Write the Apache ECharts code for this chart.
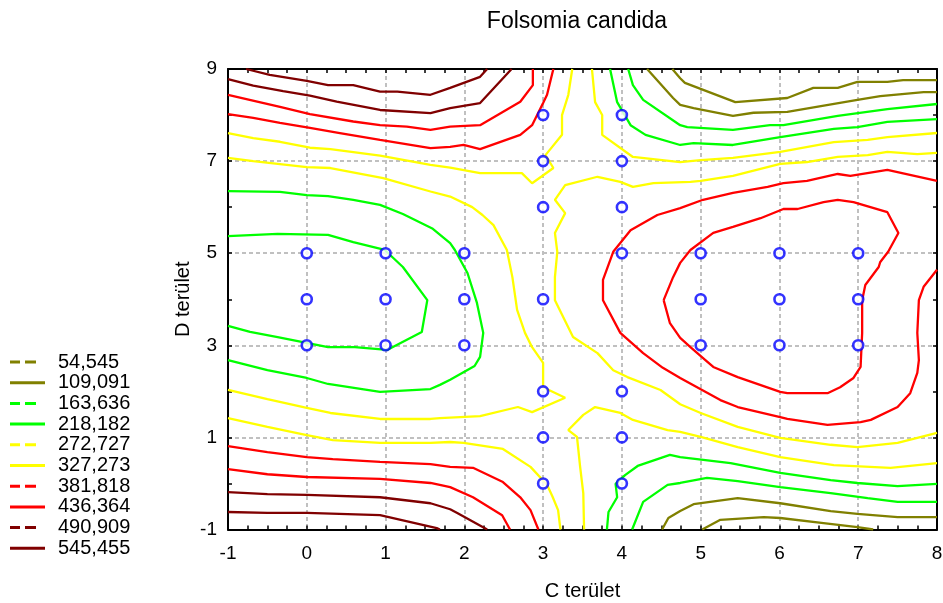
<!DOCTYPE html>
<html>
<head>
<meta charset="utf-8">
<script src="https://cdn.jsdelivr.net/npm/echarts@6/dist/echarts.min.js"></script>
<style>
html,body{margin:0;padding:0;background:#fff;}
#chart{width:943px;height:603px;}
</style>
</head>
<body>
<div id="chart"></div>
<script>
// ---- data ----
const chartTitle = 'Folsomia candida';
const xName = 'C terület';
const yName = 'D terület';
const levelLabels = ['54,545','109,091','163,636','218,182','272,727','327,273','381,818','436,364','490,909','545,455'];

// sample locations (blue circles)
const sampleX = [0,1,2,0,1,2,0,1,2,3,4,3,4,3,4,3,4,5,6,7,5,6,7,5,6,7,3,4,3,4,3,4];
const sampleY = [5,5,5,4,4,4,3,3,3,8,8,7,7,6,6,4,5,5,5,5,4,4,4,3,3,3,2,2,1,1,0,0];

// contour polylines [x, y] for each level
const c054_top = [[4.64,9],[4.74,8.8],[4.8,8.7],[5.44,8.28],[6.1,8.37],[6.43,8.59],[6.74,8.59],[6.99,8.72],[7.37,8.72],[7.57,8.76],[8,8.76]];
const c054_bot = [[5.02,-1],[5.25,-0.79],[5.8,-0.73],[6.01,-0.75],[6.56,-0.86],[6.99,-0.95],[7.19,-1]];

const c109_top = [[4.32,9],[4.65,8.37],[4.74,8.22],[4.91,8.15],[5.41,7.98],[5.67,8.05],[6.1,8.07],[6.99,8.33],[7.28,8.41],[7.83,8.5],[8,8.5]];
const c109_bot = [[4.51,-1],[4.59,-0.75],[4.74,-0.6],[4.91,-0.45],[5.47,-0.32],[6.01,-0.43],[6.65,-0.6],[6.99,-0.66],[7.5,-0.73],[8,-0.73]];

const c164_left = [[-1,5.37],[-0.37,5.42],[0.27,5.4],[0.59,5.24],[0.99,5.07],[1.22,4.7],[1.53,3.98],[1.46,3.29],[1.02,2.9],[0.61,2.96],[0.27,2.96],[-0.37,3.18],[-0.72,3.29],[-1,3.42]];
const c164_top = [[4.08,9],[4.14,8.65],[4.27,8.33],[4.74,7.78],[4.83,7.74],[5.41,7.68],[5.88,7.78],[6.05,7.78],[6.74,7.98],[7.37,8.13],[8,8.24]];
const c164_bot = [[4.13,-1],[4.27,-0.4],[4.58,-0.03],[4.74,0.01],[5.08,0.12],[5.47,0.05],[6.01,-0.08],[6.65,-0.21],[7.12,-0.32],[7.5,-0.4],[8,-0.4]];

const c218_left = [[-1,6.35],[-0.34,6.33],[0,6.26],[0.27,6.24],[0.59,6.16],[0.93,6.05],[1.22,5.85],[1.6,5.53],[1.82,5.22],[1.88,5.07],[2.04,4.57],[2.16,3.92],[2.24,3.27],[2.2,2.75],[2.13,2.55],[1.82,2.25],[1.69,2.14],[1.57,2.05],[0.93,1.99],[0.27,2.16],[0,2.29],[-0.5,2.46],[-1,2.68]];
const c218_top = [[3.85,9],[3.94,8.28],[4.11,7.78],[4.3,7.57],[4.74,7.35],[4.91,7.39],[5.41,7.35],[6.01,7.52],[6.69,7.7],[6.99,7.74],[7.37,7.85],[8,7.91]];
const c218_bot = [[3.81,-1],[3.83,-0.62],[3.94,-0.3],[3.92,-0.01],[4.04,0.18],[4.2,0.38],[4.61,0.62],[4.74,0.57],[5.38,0.44],[6.01,0.23],[6.65,0.07],[6.99,0.01],[7.5,-0.06],[8,-0.01]];

const c273_left = [[-1,7.07],[-0.68,7.0],[0,6.87],[0.3,6.85],[0.97,6.63],[1.57,6.34],[1.82,6.23],[2.1,6.0],[2.23,5.83],[2.37,5.61],[2.54,5.07],[2.61,4.48],[2.67,3.77],[2.77,3.27],[2.86,2.96],[3.0,2.62],[3.0,2.09],[3.28,1.86],[2.86,1.55],[2.68,1.66],[2.2,1.46],[1.69,1.42],[1.57,1.4],[0.93,1.4],[0.3,1.53],[0,1.64],[-0.5,1.83],[-1,2.03]];
const c273_top = [[3.62,9],[3.66,8.28],[3.75,8.0],[3.75,7.57],[4.14,7.09],[4.74,6.98],[5.0,7.02],[5.41,7.07],[6.01,7.2],[6.69,7.41],[7.12,7.46],[7.37,7.52],[8,7.61]];
const c273_bot = [[8,0.44],[7.41,0.34],[6.69,0.4],[6.01,0.57],[5.47,0.79],[5.0,1.01],[4.74,1.12],[4.58,1.16],[4.14,1.38],[3.98,1.53],[3.66,1.66],[3.51,1.49],[3.32,1.16],[3.43,1.01],[3.47,0.36],[3.51,-0.21],[3.52,-1]];

const c327_top = [[-1,7.61],[-0.68,7.5],[-0.34,7.42],[0.04,7.29],[0.3,7.26],[0.93,7.12],[1.57,6.92],[1.82,6.86],[2.2,6.74],[2.73,6.74],[2.86,6.52],[3.13,6.85],[3.03,7.13],[3.24,7.57],[3.24,8.0],[3.32,8.44],[3.37,9]];
const c327_bot = [[-1,1.42],[-0.5,1.23],[0,1.05],[0.33,0.94],[0.93,0.88],[1.57,0.88],[1.82,0.9],[1.99,0.88],[2.49,0.75],[2.84,0.36],[3.05,-0.03],[3.12,-0.29],[3.19,-0.58],[3.22,-1]];
const c327_right = [[8,7.18],[7.75,7.15],[7.37,7.2],[7.12,7.13],[6.74,7.09],[6.35,6.98],[6.01,6.94],[5.41,6.68],[5.0,6.57],[4.87,6.55],[4.4,6.52],[4.14,6.44],[3.98,6.55],[3.69,6.66],[3.28,6.48],[3.15,6.16],[3.28,5.87],[3.15,5.44],[3.18,5.03],[3.15,4.48],[3.15,3.98],[3.38,3.18],[3.69,2.83],[3.89,2.46],[4.07,2.31],[4.49,2.03],[4.74,1.72],[5.0,1.53],[5.47,1.23],[6.01,0.99],[6.65,0.84],[6.99,0.79],[7.5,0.88],[8,1.1]];

const c382_top = [[-1,8.02],[-0.68,7.94],[-0.34,7.83],[0.04,7.72],[0.42,7.61],[0.93,7.46],[1.57,7.28],[1.82,7.31],[1.99,7.35],[2.2,7.26],[2.71,7.57],[2.86,7.78],[3.0,8.26],[3.05,8.44],[3.13,9]];
const c382_bot = [[-1,0.81],[-0.5,0.68],[0,0.57],[0.33,0.53],[0.93,0.47],[1.57,0.42],[1.82,0.36],[2.11,0.34],[2.49,0.03],[2.71,-0.3],[2.84,-0.58],[2.94,-1]];
const c382_right = [[8,6.57],[7.37,6.81],[6.9,6.68],[6.74,6.72],[6.35,6.57],[6.05,6.52],[5.85,6.44],[5.41,6.31],[5.03,6.16],[4.74,5.98],[4.45,5.83],[4.11,5.5],[3.89,5.03],[3.76,4.42],[3.76,3.98],[3.98,3.27],[4.27,2.83],[4.52,2.51],[4.74,2.29],[5.25,1.81],[5.47,1.66],[6.01,1.44],[6.1,1.4],[6.61,1.27],[7.03,1.33],[7.16,1.38],[7.5,1.66],[7.66,1.96],[7.75,2.4],[7.77,2.68],[7.75,3.27],[7.77,3.98],[7.83,4.27],[8,4.64]];

const c436_top = [[-1,8.44],[-0.34,8.18],[0.04,8.02],[0.59,7.86],[0.93,7.78],[1.27,7.75],[1.57,7.68],[1.82,7.75],[2.2,7.78],[2.71,8.29],[2.87,8.65],[2.87,9]];
const c436_bot = [[-1,0.31],[-0.5,0.2],[0,0.14],[0.93,0.1],[1.57,0.01],[1.82,-0.08],[2.11,-0.3],[2.48,-0.69],[2.58,-1]];
const c436_loop = [[4.53,3.98],[4.61,3.48],[4.74,3.16],[4.87,2.96],[5.06,2.68],[5.16,2.53],[5.47,2.31],[6.01,1.99],[6.1,1.96],[6.61,1.96],[6.77,2.09],[6.94,2.29],[7.03,2.53],[7.05,3.27],[7.05,3.98],[7.09,4.31],[7.26,4.7],[7.28,4.81],[7.38,5.03],[7.51,5.44],[7.37,5.89],[6.94,6.11],[6.74,6.16],[6.56,6.11],[6.23,5.96],[6.05,5.96],[5.76,5.76],[5.41,5.57],[5.16,5.44],[4.87,5.07],[4.74,4.79],[4.65,4.48],[4.53,3.98]];

const c491_top = [[-1,8.78],[-0.68,8.64],[-0.3,8.52],[0.04,8.42],[0.38,8.29],[0.93,8.11],[1.57,8.04],[1.82,8.15],[2.2,8.26],[2.6,9]];
const c491_bot = [[-1,-0.19],[-0.5,-0.23],[0,-0.25],[0.93,-0.3],[1.57,-0.43],[1.82,-0.56],[1.91,-0.64],[2.29,-1]];

const c545_top = [[-0.77,9],[-0.47,8.87],[0,8.74],[0.27,8.65],[0.59,8.65],[0.93,8.51],[1.15,8.51],[1.57,8.44],[1.82,8.59],[2.2,8.83],[2.29,9]];
const c545_bot = [[-1,-0.62],[-0.5,-0.64],[0,-0.64],[0.93,-0.69],[1.65,-0.97],[1.69,-1]];

const levelLines = [
  [c054_top, c054_bot],
  [c109_top, c109_bot],
  [c164_left, c164_top, c164_bot],
  [c218_left, c218_top, c218_bot],
  [c273_left, c273_top, c273_bot],
  [c327_top, c327_bot, c327_right],
  [c382_top, c382_bot, c382_right],
  [c436_top, c436_bot, c436_loop],
  [c491_top, c491_bot],
  [c545_top, c545_bot]
];

// ---- styles ----
const levelColors = ['#808000','#808000','#00ff00','#00ff00','#ffff00','#ffff00','#ff0000','#ff0000','#800000','#800000'];
const levelDashed = [true,false,true,false,true,false,true,false,true,false];
const FONT = 'Liberation Sans, Arial, Helvetica, sans-serif';
// legend glyphs: a solid bar, or two dashes (a hair-thin invisible end keeps the width)
const ICON_SOLID = 'path://M0,0H35V3H0Z';
const ICON_DASH = 'path://M0,0H10V3H0Z M15,0H26V3H15Z M34.95,1.4H35V1.6H34.95Z';

const series = [];
levelLines.forEach((lines, i) => {
  lines.forEach(line => {
    series.push({
      type: 'line',
      name: levelLabels[i],
      data: line,
      symbol: 'none',
      showSymbol: false,
      smooth: false,
      clip: true,
      silent: true,
      animation: false,
      z: 3,
      lineStyle: { color: levelColors[i], width: 2.3 },
      itemStyle: { color: levelColors[i] }
    });
  });
});
series.push({
  type: 'scatter',
  name: 'samples',
  data: sampleX.map((x, k) => [x, sampleY[k]]),
  symbol: 'circle',
  symbolSize: 10,
  silent: true,
  animation: false,
  z: 5,
  itemStyle: { color: '#ffffff', borderColor: '#0000ff', borderWidth: 2.6 }
});

const axisLine = { show: true, onZero: false, lineStyle: { color: '#000', width: 2 } };
const axisTick = { show: true, inside: true, length: 4, lineStyle: { color: '#000', width: 1.5 } };
const gridLine = { show: true, lineStyle: { color: '#c0c0c0', width: 2, type: [4, 3] } };

const option = {
  backgroundColor: '#ffffff',
  animation: false,
  title: {
    text: chartTitle,
    left: 572, top: 5, textAlign: 'center',
    textStyle: { fontFamily: FONT, fontSize: 23, fontWeight: 'normal', color: '#000' }
  },
  legend: {
    orient: 'vertical',
    left: 10, top: 352, padding: 0,
    itemWidth: 35, itemHeight: 3, itemGap: 0.7,
    textStyle: { fontFamily: FONT, fontSize: 20, color: '#000', padding: [0, 0, 0, 8] },
    selectedMode: false,
    data: levelLabels.map((n, i) => ({
      name: n,
      icon: levelDashed[i] ? ICON_DASH : ICON_SOLID,
      itemStyle: { color: levelColors[i] }
    }))
  },
  grid: { left: 228, right: 6, top: 69, bottom: 73.5, containLabel: false, outerBoundsMode: 'none' },
  xAxis: [
    {
      type: 'value', position: 'bottom', min: -1, max: 8, interval: 1,
      axisLine: axisLine, axisTick: axisTick,
      minorTick: { show: true, splitNumber: 4, length: 4, lineStyle: { color: '#000', width: 1.5 } },
      axisLabel: { fontFamily: FONT, fontSize: 19, color: '#000', margin: 15 },
      splitLine: gridLine,
      name: xName, nameLocation: 'middle', nameGap: 52, nameMoveOverlap: false,
      nameTextStyle: { fontFamily: FONT, fontSize: 20, color: '#000' }
    },
    {
      type: 'value', position: 'top', min: -1, max: 8, interval: 1,
      axisLine: axisLine, axisTick: axisTick,
      minorTick: { show: true, splitNumber: 4, length: 4, lineStyle: { color: '#000', width: 1.5 } },
      axisLabel: { show: false }, splitLine: { show: false }
    }
  ],
  yAxis: [
    {
      type: 'value', position: 'left', min: -1, max: 9, interval: 2,
      axisLine: axisLine, axisTick: axisTick,
      minorTick: { show: true, splitNumber: 2, length: 4, lineStyle: { color: '#000', width: 1.5 } },
      axisLabel: { fontFamily: FONT, fontSize: 19, color: '#000', margin: 11 },
      splitLine: gridLine,
      name: yName, nameLocation: 'middle', nameGap: 35, nameRotate: 90, nameMoveOverlap: false,
      nameTextStyle: { fontFamily: FONT, fontSize: 20, color: '#000' }
    },
    {
      type: 'value', position: 'right', min: -1, max: 9, interval: 2,
      axisLine: axisLine, axisTick: axisTick,
      minorTick: { show: true, splitNumber: 2, length: 4, lineStyle: { color: '#000', width: 1.5 } },
      axisLabel: { show: false }, splitLine: { show: false }
    }
  ],
  series: series
};

const chart = echarts.init(document.getElementById('chart'), null, { renderer: 'canvas' });
chart.setOption(option);
</script>
</body>
</html>
